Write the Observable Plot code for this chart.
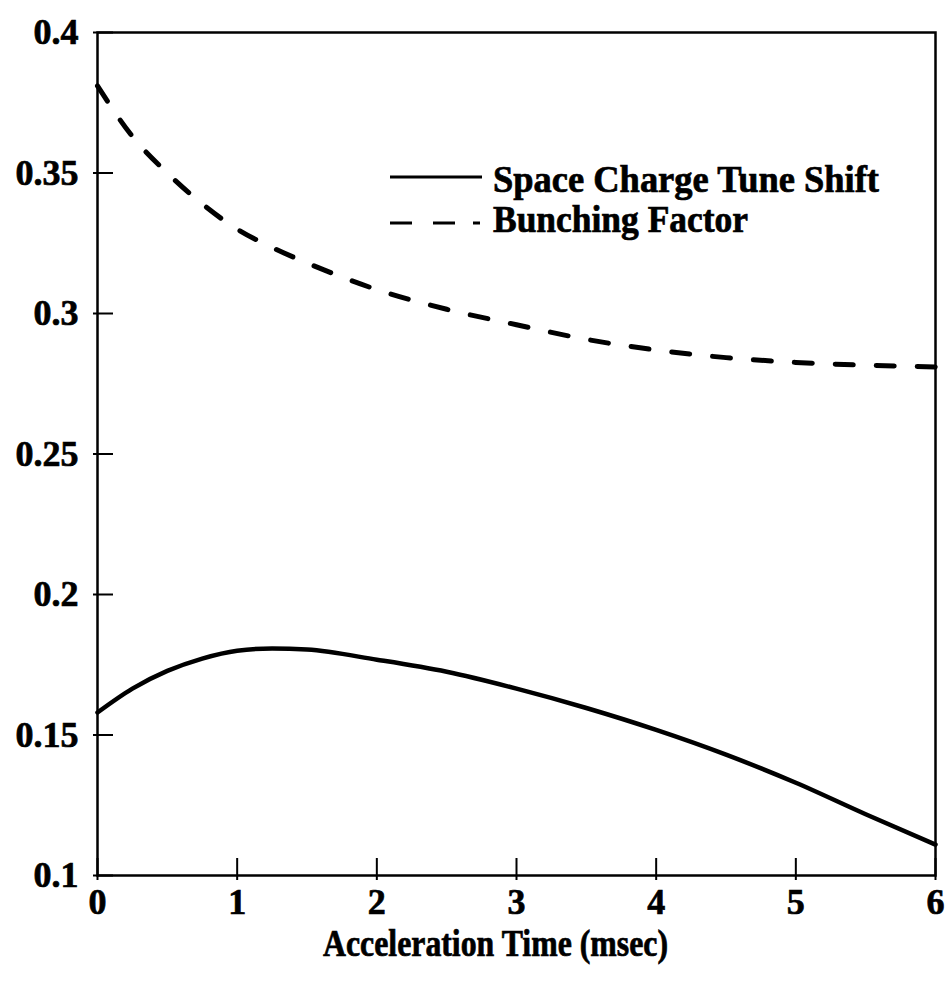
<!DOCTYPE html>
<html><head><meta charset="utf-8">
<script src="https://cdn.jsdelivr.net/npm/d3@7"></script>
<script src="https://cdn.jsdelivr.net/npm/@observablehq/plot@0.6"></script>
<style>
body{margin:0;background:#fff;}
#wrap{width:949px;height:986px;}
svg text{stroke:black;stroke-width:0.7px;paint-order:stroke;}
</style></head><body><div id="wrap"></div>
<script>
// ---- data ----
const time        = [0, 0.25, 0.5, 0.75, 1, 1.25, 1.5, 2, 2.5, 3, 3.5, 4, 4.5, 5, 5.5, 6];
const tuneShift   = [0.158, 0.1665, 0.1728, 0.1772, 0.1800, 0.1808, 0.1804, 0.1768, 0.1725, 0.1665, 0.1596, 0.1518, 0.1430, 0.1330, 0.1218, 0.1110];
const bunching    = [0.381, 0.363, 0.350, 0.339, 0.330, 0.3235, 0.318, 0.3085, 0.3015, 0.2960, 0.2908, 0.2870, 0.2843, 0.2826, 0.2816, 0.2810];
const xTicks      = [0, 1, 2, 3, 4, 5, 6];
const yTicks      = [0.1, 0.15, 0.2, 0.25, 0.3, 0.35, 0.4];
const yTickLabels = ["0.1", "0.15", "0.2", "0.25", "0.3", "0.35", "0.4"];
const seriesNames = ["Space Charge Tune Shift", "Bunching Factor"];
const xLabel      = "Acceleration Time (msec)";

const font = "'Liberation Serif', 'Times New Roman', serif";
const tuneData  = time.map((t, i) => ({t, v: tuneShift[i]}));
const bunchData = time.map((t, i) => ({t, v: bunching[i]}));

const chart = Plot.plot({
  width: 949, height: 986,
  marginLeft: 97, marginRight: 14, marginTop: 32, marginBottom: 111,
  style: {fontFamily: font, fontWeight: "bold", fontSize: "36px", color: "black", background: "white", overflow: "visible"},
  x: {domain: [0, 6]},
  y: {domain: [0.1, 0.4]},
  marks: [
    Plot.frame({stroke: "black", strokeWidth: 2.5}),
    Plot.axisX({ticks: xTicks, tickSize: 5, tickPadding: 8, tickFormat: d => String(d), label: null, strokeWidth: 2, fontSize: 36}),
    Plot.axisX({ticks: xTicks, tickSize: -17, tickFormat: () => "", label: null, strokeWidth: 2}),
    Plot.axisY({ticks: yTicks, tickSize: 4, tickPadding: 15, tickFormat: d => yTickLabels[yTicks.indexOf(d)], label: null, strokeWidth: 2, fontSize: 36}),
    Plot.axisY({ticks: yTicks, tickSize: -16, tickFormat: () => "", label: null, strokeWidth: 2}),
    Plot.line(tuneData, {x: "t", y: "v", curve: "monotone-x", stroke: "black", strokeWidth: 4.5}),
    Plot.line(bunchData, {x: "t", y: "v", curve: "monotone-x", stroke: "black", strokeWidth: 5, strokeDasharray: "18,23", strokeLinecap: "round"}),
    Plot.text([xLabel], {frameAnchor: "bottom", dy: 80, dx: -21, fontSize: 37, fontWeight: "bold", fill: "black"})
  ]
});
document.getElementById("wrap").appendChild(chart);

// condense the axis title to the reference width
d3.select(chart).selectAll("text").filter(function() { return this.textContent === xLabel; })
  .attr("textLength", 345).attr("lengthAdjust", "spacingAndGlyphs");

// legend
const svg = d3.select(chart);
const lg = svg.append("g").attr("font-family", font).attr("font-weight", "bold").attr("font-size", 37)
  .attr("fill", "black").attr("text-anchor", "start");
lg.append("line").attr("x1", 390).attr("x2", 482).attr("y1", 177).attr("y2", 177).attr("stroke", "black").attr("stroke-width", 3);
lg.append("text").attr("x", 493).attr("y", 192).attr("textLength", 386).attr("lengthAdjust", "spacingAndGlyphs").text(seriesNames[0]);
lg.append("path").attr("d", "M390,223H412M433,223H455M473,223H480").attr("stroke", "black").attr("stroke-width", 3).attr("fill", "none");
lg.append("text").attr("x", 493).attr("y", 232).attr("textLength", 255).attr("lengthAdjust", "spacingAndGlyphs").text(seriesNames[1]);
</script></body></html>
